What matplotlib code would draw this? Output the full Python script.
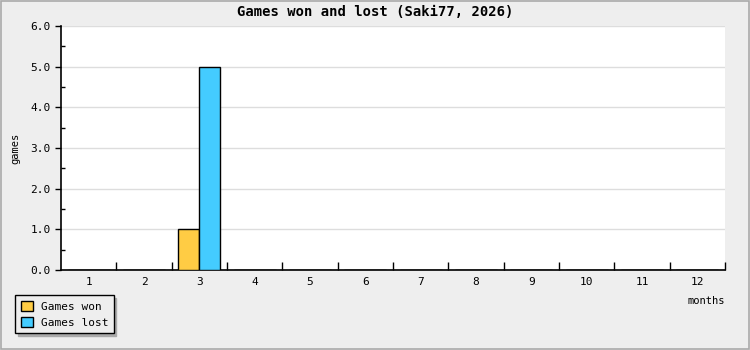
import numpy as np
import matplotlib.pyplot as plt
from matplotlib.ticker import MultipleLocator, FixedLocator

months = list(range(1, 13))
games_won = [0, 0, 1, 0, 0, 0, 0, 0, 0, 0, 0, 0]
games_lost = [0, 0, 5, 0, 0, 0, 0, 0, 0, 0, 0, 0]

plt.rcParams['font.family'] = ['DejaVu Sans Mono']
plt.rcParams['font.size'] = 8

fig = plt.figure(figsize=(7.5, 3.5), dpi=100, facecolor='#eeeeee')
# outer grey frame
fig.patches.append(plt.Rectangle((0.001, 0.002), 0.997, 0.995, transform=fig.transFigure,
                                 fill=False, edgecolor='#aaaaaa', linewidth=1.2))
ax = fig.add_axes([61 / 750, 80 / 350, 664 / 750, 244 / 350])

x = np.arange(len(months))
w = 0.38
ax.bar(x - w / 2, games_won, w, color='#ffcc44', edgecolor='black', linewidth=1, label='Games won', zorder=3)
ax.bar(x + w / 2, games_lost, w, color='#44ccff', edgecolor='black', linewidth=1, label='Games lost', zorder=3)

ax.set_xlim(-0.5, len(months) - 0.5)
ax.set_ylim(0, 6)
ax.set_xticks(x)
ax.set_xticklabels([str(m) for m in months])
ax.xaxis.set_minor_locator(FixedLocator(np.arange(0.5, len(months) - 0.5 + 0.01, 1)))
ax.tick_params(axis='x', which='major', length=0, pad=5)
ax.tick_params(axis='x', which='minor', direction='in', length=6, width=1)
ax.yaxis.set_major_locator(MultipleLocator(1))
ax.yaxis.set_minor_locator(MultipleLocator(0.5))
ax.yaxis.set_major_formatter(plt.FormatStrFormatter('%.1f'))
ax.tick_params(axis='y', which='major', direction='out', length=4, width=1)
ax.tick_params(axis='y', which='minor', direction='in', length=3, width=1)
ax.grid(axis='y', color='#dddddd', linewidth=1, zorder=0)

for side in ['top', 'right']:
    ax.spines[side].set_visible(False)
ax.spines['left'].set_linewidth(1.2)
ax.spines['bottom'].set_linewidth(1.2)

fig.text(0.5, 1 - 12 / 350, 'Games won and lost (Saki77, 2026)', ha='center', va='center',
         fontsize=10, fontweight='bold')
fig.text(15 / 750, 1 - 148 / 350, 'games', rotation=90, ha='center', va='center', fontsize=7.5)
fig.text(706 / 750, 1 - 301 / 350, 'months', ha='center', va='center', fontsize=7.5)

leg = ax.legend(loc='upper left', bbox_to_anchor=(15 / 750, 1 - 295 / 350), bbox_transform=fig.transFigure,
                frameon=True, fancybox=False, shadow={'color': '#aaaaaa', 'alpha': 1},
                edgecolor='black', facecolor='#eeeeee', fontsize=8,
                handlelength=1.1, handleheight=1.1, borderpad=0.5, labelspacing=0.45, handletextpad=0.7,
                borderaxespad=0)
leg.get_frame().set_linewidth(1)
leg.get_frame().set_alpha(1)

fig.savefig('out.png', dpi=100, facecolor=fig.get_facecolor())
